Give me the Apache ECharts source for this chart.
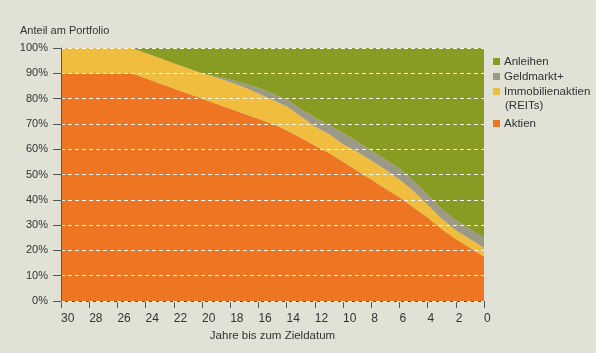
<!DOCTYPE html>
<html>
<head>
<meta charset="utf-8">
<style>
  html, body { margin: 0; padding: 0; background: #e1e1d5; }
  #chart { width: 596px; height: 353px; }
</style>
<script src="https://cdn.jsdelivr.net/npm/echarts@6/dist/echarts.min.js"></script>
</head>
<body>
<div id="chart"></div>
<script>
// Jahre bis zum Zieldatum (von 30 bis 0)
var years = ['30','29','28','27','26','25','24','23','22','21','20','19','18','17','16','15',
             '14','13','12','11','10','9','8','7','6','5','4','3','2','1','0'];

// Anteile in Prozent, je Jahr
var aktien    = [90,90,90,90,90,90,88,86,84,82,80,78,76,74,72,70,67.5,64.5,61.5,58.5,55,51.5,48,44.5,41,37,33,28.5,24.5,21,17.5];
var reits     = [10,10,10,10,10,10,10,10,10,10,10,10.3,10.5,10.5,10,9.5,9.5,8.5,7.5,7.5,7,7.5,7.5,7.5,7,6.5,5,4,3.5,3.5,3.5];
var geldmarkt = [0,0,0,0,0,0,0,0,0,0,0,0.5,1,1.5,2.3,2.5,2.5,3,3.5,3.5,4.5,4,4,4,4.5,4,4,4,4,4,4];
var anleihen  = [0,0,0,0,0,0,2,4,6,8,10,11.2,12.5,14,15.7,18,20.5,24,27.5,30.5,33.5,37,40.5,44,47.5,52.5,58,63.5,68,71.5,75];

var yTicks = [0,10,20,30,40,50,60,70,80,90,100];

var chart = echarts.init(document.getElementById('chart'));

function area(name, data, color) {
    return {
        name: name,
        type: 'line',
        stack: 'portfolio',
        data: data,
        symbol: 'none',
        lineStyle: { width: 0 },
        itemStyle: { color: color },
        areaStyle: { color: color, opacity: 1 },
        z: 1
    };
}

var legendBase = {
    orient: 'vertical',
    left: 493,
    padding: 0,
    itemWidth: 7,
    itemHeight: 7,
    itemGap: 2,
    icon: 'rect',
    selectedMode: false,
    textStyle: { color: '#333', fontSize: 11.5, lineHeight: 13, padding: [0, 0, 0, -1] }
};

var option = {
    backgroundColor: '#e1e1d5',
    textStyle: { fontFamily: 'Liberation Sans, Arial, sans-serif' },
    animation: false,
    grid: { left: 61, right: 112, top: 48, bottom: 52 },
    graphic: [{
        type: 'text',
        left: 20,
        top: 25,
        style: { text: 'Anteil am Portfolio', fill: '#333', font: '11px Liberation Sans' }
    }, {
        type: 'text',
        left: 505,
        top: 100,
        style: { text: '(REITs)', fill: '#333', font: '11.5px Liberation Sans' }
    }],
    legend: [
        Object.assign({}, legendBase, {
            top: 55,
            data: ['Anleihen', 'Geldmarkt+', 'Immobilienaktien (REITs)'],
            formatter: function (name) { return name.replace(' (REITs)', ''); }
        }),
        Object.assign({}, legendBase, {
            top: 117,
            data: ['Aktien']
        })
    ],
    xAxis: {
        type: 'category',
        data: years,
        boundaryGap: false,
        name: 'Jahre bis zum Zieldatum',
        nameLocation: 'middle',
        nameGap: 29,
        nameTextStyle: { color: '#333', fontSize: 11.5 },
        axisLine: { lineStyle: { color: '#555' } },
        axisTick: { interval: 1, length: 7, lineStyle: { color: '#555' } },
        axisLabel: { interval: 1, color: '#333', fontSize: 12, margin: 12, align: 'left' },
        splitLine: { show: false }
    },
    yAxis: {
        type: 'value',
        min: 0,
        max: 100,
        interval: 10,
        axisLine: { show: true, lineStyle: { color: '#555' } },
        axisTick: { show: true, length: 8, lineStyle: { color: '#555' } },
        axisLabel: {
            color: '#333',
            fontSize: 11,
            margin: 13,
            formatter: function (v) { return yTicks.indexOf(v) >= 0 ? v + '%' : ''; }
        },
        splitLine: { show: true, lineStyle: { color: '#ffffff', type: [4, 3], width: 1 } },
        z: 5
    },
    series: [
        area('Aktien', aktien, '#ee7623'),
        area('Immobilienaktien (REITs)', reits, '#f1bd3f'),
        area('Geldmarkt+', geldmarkt, '#9c9a87'),
        area('Anleihen', anleihen, '#889b22')
    ]
};

chart.setOption(option);
</script>
</body>
</html>
